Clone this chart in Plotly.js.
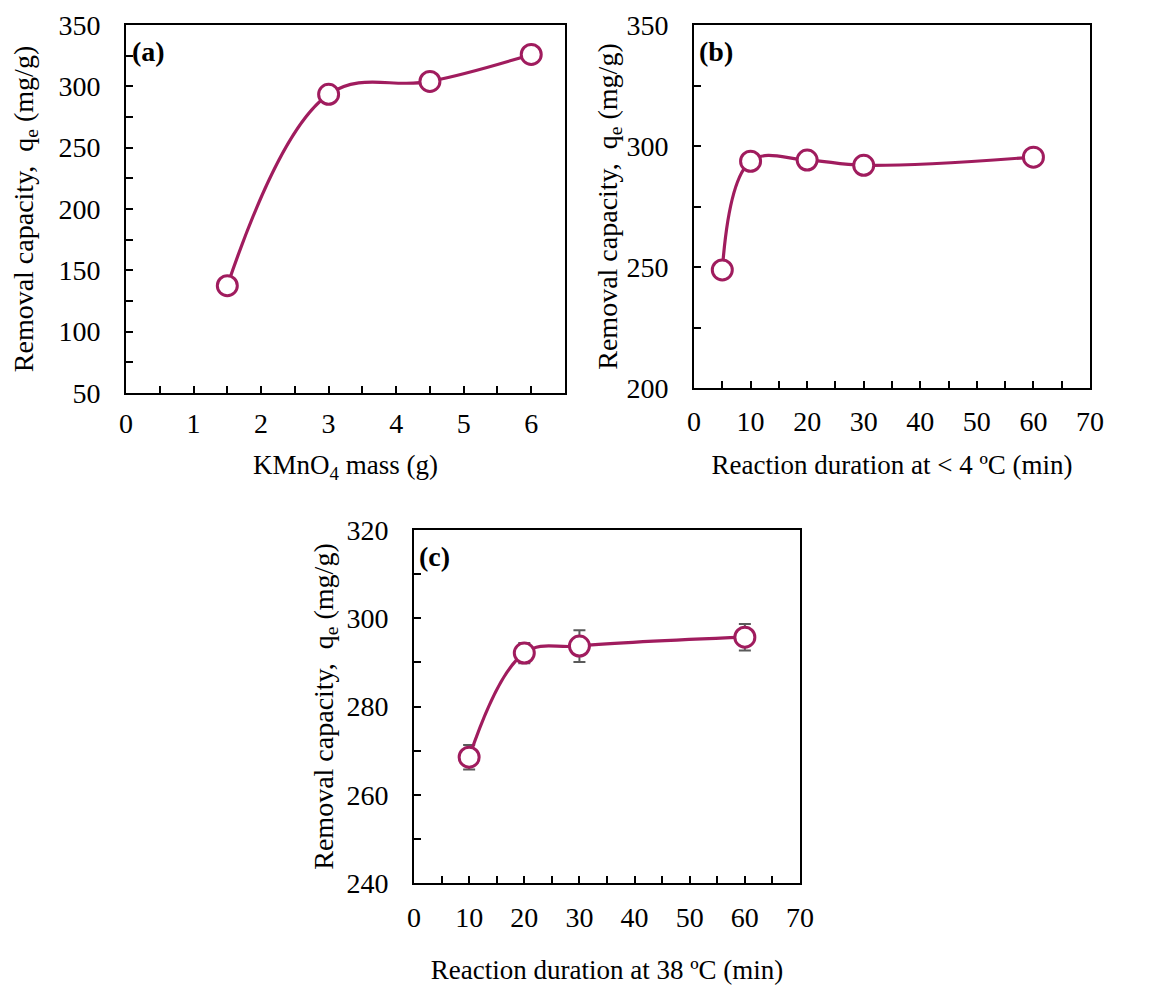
<!DOCTYPE html>
<html>
<head>
<meta charset="utf-8">
<script src="https://cdn.plot.ly/plotly-3.0.1.min.js"></script>
<style>html,body{margin:0;padding:0;background:#fff;}</style>
</head>
<body>
<div id="chart" style="width:1171px;height:985px;"></div>
<script>
// Panel (a): KMnO4 mass
const massA = [1.5, 3, 4.5, 6];
const qeA = [137.5, 293.5, 304, 326];
// Panel (b): reaction duration at < 4 ºC
const timeB = [5, 10, 20, 30, 60];
const qeB = [248.8, 293.7, 294.2, 292, 295.4];
const errB = [0, 0, 3, 0.6, 0];
// Panel (c): reaction duration at 38 ºC
const timeC = [10, 20, 30, 60];
const qeC = [268.5, 292.1, 293.7, 295.7];
const errC = [2.8, 2.3, 3.6, 3.0];

const W = 1171, H = 985;
const col = '#A01C5E';
const font = '"Liberation Serif", "Times New Roman", serif';
const FS = 28;   // tick labels
const XT = 27;   // x-axis titles
const YT = 28;   // y-axis titles

function trace(x, y, err, xa, ya) {
  const t = {
    x: x, y: y, xaxis: xa, yaxis: ya, type: 'scatter', mode: 'lines+markers',
    line: {color: col, width: 3.2, shape: 'spline', smoothing: 1.1},
    marker: {symbol: 'circle', size: 20, color: '#ffffff', line: {color: col, width: 3}},
    showlegend: false, hoverinfo: 'x+y'
  };
  if (err) t.error_y = {type: 'data', array: err, visible: true, color: '#5a5a5a', thickness: 2, width: 6};
  return t;
}

function dom(p0, p1, total) { return [p0 / total, p1 / total]; }
function ydom(top, bottom) { return [1 - bottom / H, 1 - top / H]; }

function xaxis(domain, range, dtick, minor, title, lblOff, standoff, anchor) {
  return {
    domain: domain, range: range, anchor: anchor, dtick: dtick, tick0: 0,
    showline: true, mirror: true, linecolor: '#000', linewidth: 2,
    ticks: 'inside', ticklen: 7, tickwidth: 2, tickcolor: '#000',
    minor: {ticks: 'inside', dtick: minor, ticklen: 7, tickwidth: 2, tickcolor: '#000', showgrid: false},
    showgrid: false, zeroline: false,
    tickfont: {family: font, size: FS, color: '#000'},
    ticklabelstandoff: lblOff,
    title: {text: title, font: {family: font, size: XT, color: '#000'}, standoff: standoff}
  };
}
function yaxis(domain, range, dtick, minor, anchor, standoff) {
  return {
    domain: domain, range: range, anchor: anchor, dtick: dtick, tick0: range[0],
    showline: true, mirror: true, linecolor: '#000', linewidth: 2,
    ticks: 'inside', ticklen: 7, tickwidth: 2, tickcolor: '#000',
    minor: {ticks: 'inside', dtick: minor, ticklen: 7, tickwidth: 2, tickcolor: '#000', showgrid: false},
    showgrid: false, zeroline: false,
    tickfont: {family: font, size: FS, color: '#000'},
    ticklabelstandoff: 18,
    title: {text: 'Removal capacity,  q<sub>e</sub> (mg/g)', font: {family: font, size: YT, color: '#000'}, standoff: standoff}
  };
}

const data = [
  trace(massA, qeA, null, 'x', 'y'),
  trace(timeB, qeB, errB, 'x2', 'y2'),
  trace(timeC, qeC, errC, 'x3', 'y3')
];

const layout = {
  width: W, height: H,
  margin: {l: 0, r: 0, t: 0, b: 0},
  font: {family: font, size: FS, color: '#000'},
  paper_bgcolor: '#fff', plot_bgcolor: '#fff',
  xaxis: xaxis(dom(126, 565, W), [0, 6.5], 1, 0.5, 'KMnO<sub>4</sub> mass (g)', 4, 18, 'y'),
  yaxis: yaxis(ydom(25, 393), [50, 350], 50, 25, 'x', 17),
  xaxis2: xaxis(dom(694, 1090, W), [0, 70], 10, 5, 'Reaction duration at < 4 ºC (min)', 7, 20, 'y2'),
  yaxis2: yaxis(ydom(25, 388), [200, 350], 50, 25, 'x2', 1),
  xaxis3: xaxis(dom(414, 800, W), [0, 70], 10, 5, 'Reaction duration at 38 ºC (min)', 8, 35, 'y3'),
  yaxis3: yaxis(ydom(530, 883), [240, 320], 20, 10, 'x3', 5),
  annotations: [
    {text: '<b>(a)</b>', xref: 'x domain', yref: 'y domain', x: 0.008, y: 0.975, xanchor: 'left', yanchor: 'top', showarrow: false, font: {family: font, size: FS, color: '#000'}},
    {text: '<b>(b)</b>', xref: 'x2 domain', yref: 'y2 domain', x: 0.008, y: 0.975, xanchor: 'left', yanchor: 'top', showarrow: false, font: {family: font, size: FS, color: '#000'}},
    {text: '<b>(c)</b>', xref: 'x3 domain', yref: 'y3 domain', x: 0.008, y: 0.975, xanchor: 'left', yanchor: 'top', showarrow: false, font: {family: font, size: FS, color: '#000'}}
  ]
};

Plotly.newPlot('chart', data, layout, {staticPlot: true, displayModeBar: false});
</script>
</body>
</html>
